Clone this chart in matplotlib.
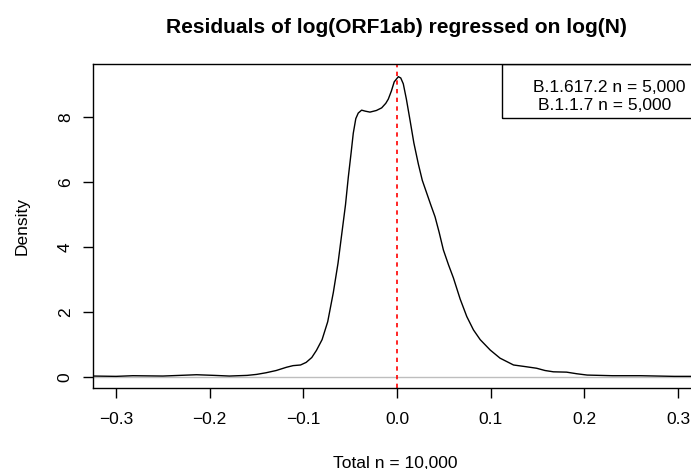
import matplotlib
matplotlib.use("Agg")
import matplotlib.pyplot as plt
from matplotlib.patches import Rectangle

plt.rcParams['font.family'] = ['Liberation Sans', 'DejaVu Sans']

# density curve
resid = [-0.325, -0.30, -0.282, -0.25, -0.214, -0.195, -0.179, -0.160, -0.150,
         -0.140, -0.129, -0.118, -0.111, -0.103, -0.097, -0.091, -0.086, -0.080,
         -0.074, -0.068, -0.063, -0.059, -0.055, -0.052, -0.049, -0.0467, -0.044,
         -0.0414, -0.0378, -0.034, -0.0289, -0.022, -0.0164, -0.012, -0.0093,
         -0.006, -0.003, 0.0014, 0.004, 0.0067, 0.010, 0.0139, 0.018, 0.0228,
         0.027, 0.0318, 0.036, 0.0406, 0.045, 0.0495, 0.055, 0.0602, 0.0674,
         0.0745, 0.0816, 0.0888, 0.0995, 0.110, 0.1244, 0.137, 0.149, 0.158,
         0.167, 0.181, 0.192, 0.203, 0.23, 0.26, 0.296, 0.316]
dens = [0.03, 0.02, 0.04, 0.03, 0.07, 0.05, 0.03, 0.05, 0.08,
        0.13, 0.20, 0.30, 0.35, 0.37, 0.45, 0.60, 0.82, 1.15,
        1.7, 2.6, 3.5, 4.4, 5.3, 6.15, 6.9, 7.5, 7.95,
        8.12, 8.21, 8.18, 8.15, 8.2, 8.28, 8.42, 8.55,
        8.8, 9.08, 9.24, 9.2, 9.02, 8.55, 7.9, 7.2, 6.55,
        6.05, 5.65, 5.3, 4.93, 4.45, 3.91, 3.45, 3.05, 2.40,
        1.86, 1.45, 1.15, 0.83, 0.58, 0.37, 0.32, 0.27, 0.20,
        0.16, 0.15, 0.10, 0.06, 0.04, 0.04, 0.02, 0.02]

xticks = [-0.3, -0.2, -0.1, 0.0, 0.1, 0.2, 0.3]
xlabels = ['\u22120.3', '\u22120.2', '\u22120.1', '0.0', '0.1', '0.2', '0.3']
yticks = [0, 2, 4, 6, 8]
legend_lines = ['B.1.617.2 n = 5,000', 'B.1.1.7 n = 5,000']
title = 'Residuals of log(ORF1ab) regressed on log(N)'
total_label = 'Total n = 10,000'

W, H = 691, 469
fs = 12.5
fig = plt.figure(figsize=(W / 100, H / 100), dpi=100)
# plot box: x 93..694 (runs past the right edge), y 64..388
left_px, right_px, top_px, bot_px = 93, 694, 64, 388
ax = fig.add_axes([left_px / W, 1 - bot_px / H, (right_px - left_px) / W,
                   (bot_px - top_px) / H])

ax.axhline(0, color='#bebebe', lw=1.0)
ax.plot(resid, dens, color='black', lw=1.0)
ax.axvline(0, color='#ff0000', lw=1.2, ls=(0, (2.6, 2.6)))

ax.set_xlim(-0.3246, 0.3171)
ax.set_ylim(-0.338, 9.63)
ax.set_xticks(xticks)
ax.set_xticklabels(xlabels)
ax.set_yticks(yticks)
ax.set_yticklabels([str(v) for v in yticks], rotation=90, va='center')
ax.tick_params(axis='both', length=7.5, width=1, labelsize=fs, direction='out')
ax.tick_params(axis='x', pad=10)
ax.tick_params(axis='y', pad=7)
for s in ax.spines.values():
    s.set_linewidth(1.0)

# legend box (text only)
box_w = right_px - left_px
box_h = bot_px - top_px
ax.add_patch(Rectangle(((502 - left_px) / box_w, 1 - 54 / box_h), 1, 54 / box_h,
                       transform=ax.transAxes, fill=False, lw=1.0,
                       edgecolor='black', clip_on=True))
fig.text(609 / W, 1 - 91.5 / H, legend_lines[0], ha='center', va='baseline', fontsize=fs)
fig.text(605 / W, 1 - 110 / H, legend_lines[1], ha='center', va='baseline', fontsize=fs)

fig.text(396 / W, 1 - 33 / H, title, ha='center', va='baseline', fontsize=15.1,
         fontweight='bold')
fig.text(395 / W, 1 - 467.5 / H, total_label, ha='center', va='baseline', fontsize=fs)
fig.text(21.7 / W, 1 - 226 / H, 'Density', ha='center', va='center', rotation=90,
         fontsize=fs)

fig.savefig('out.png', dpi=100)
